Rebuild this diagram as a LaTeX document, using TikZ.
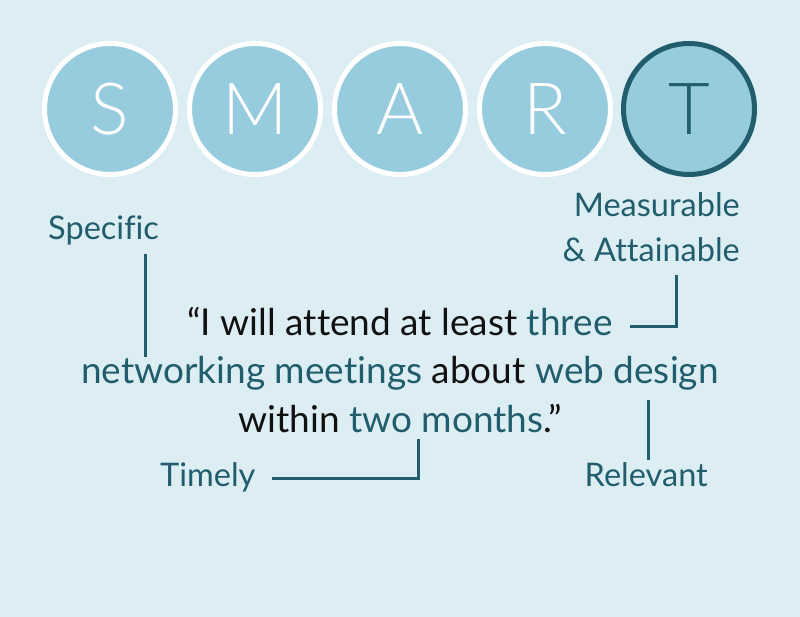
\documentclass[tikz,border=0pt]{standalone}
\usepackage{fontspec}
\setmainfont{Lato}[Ligatures={NoCommon}]
\newfontfamily\thinfont{Lato Light}
\definecolor{bg}{HTML}{DCEEF4}
\definecolor{cfill}{HTML}{96CCDD}
\definecolor{teal}{HTML}{215D6C}
\definecolor{ink}{HTML}{111111}
\tikzset{
  letter/.style={circle, inner sep=0pt, minimum size=131pt, fill=cfill, draw=white, line width=5pt,
                 text=white, font=\thinfont\fontsize{72}{72}\selectfont},
  lastletter/.style={letter, draw=teal, text=teal},
  label/.style={inner sep=0pt, text=teal, font=\fontsize{32.5}{45}\selectfont},
  quote/.style={inner sep=0pt, text=ink, font=\fontsize{37}{48}\selectfont, anchor=base},
  conn/.style={draw=teal, line width=3pt}
}
\begin{document}
\begin{tikzpicture}[x=1pt,y=-1pt]
\path[fill=bg, use as bounding box] (0,0) rectangle (800,617);
\node[letter] (S) at (110,109) {S};
\node[letter] (M) at (255,109) {M};
\node[letter] (A) at (400,109) {A};
\node[letter] (R) at (545,109) {R};
\node[lastletter] (T) at (689,109) {T};

\node[label, anchor=base west] (spec) at (48,240) {Specific};
\node[label, anchor=base east] (meas) at (740,217) {Measurable};
\node[label, anchor=base east] (att) at (740,262) {\& Attainable};
\node[label, anchor=base west] (time) at (160,486) {Timely};
\node[label, anchor=base east] (rel) at (708,486) {Relevant};

\node[quote] (q1) at (400,335) {“I will attend at least \textcolor{teal}{three}};
\node[quote] (q2) at (400,383) {\textcolor{teal}{networking meetings} about \textcolor{teal}{web design}};
\node[quote] (q3) at (400,432) {within \textcolor{teal}{two months}.”};

\coordinate (sp1) at (145,254);
\coordinate (sp2) at (145,357);
\coordinate (ma1) at (676,275);
\coordinate (ma2) at (630,327);
\coordinate (ti1) at (272,478);
\coordinate (ti2) at (418,439);
\coordinate (re1) at (648,400);
\coordinate (re2) at (648,460);
\draw[conn] (sp1) -- (sp2);
\draw[conn] (ma1) |- (ma2);
\draw[conn] (ti1) -| (ti2);
\draw[conn] (re1) -- (re2);
\end{tikzpicture}
\end{document}
